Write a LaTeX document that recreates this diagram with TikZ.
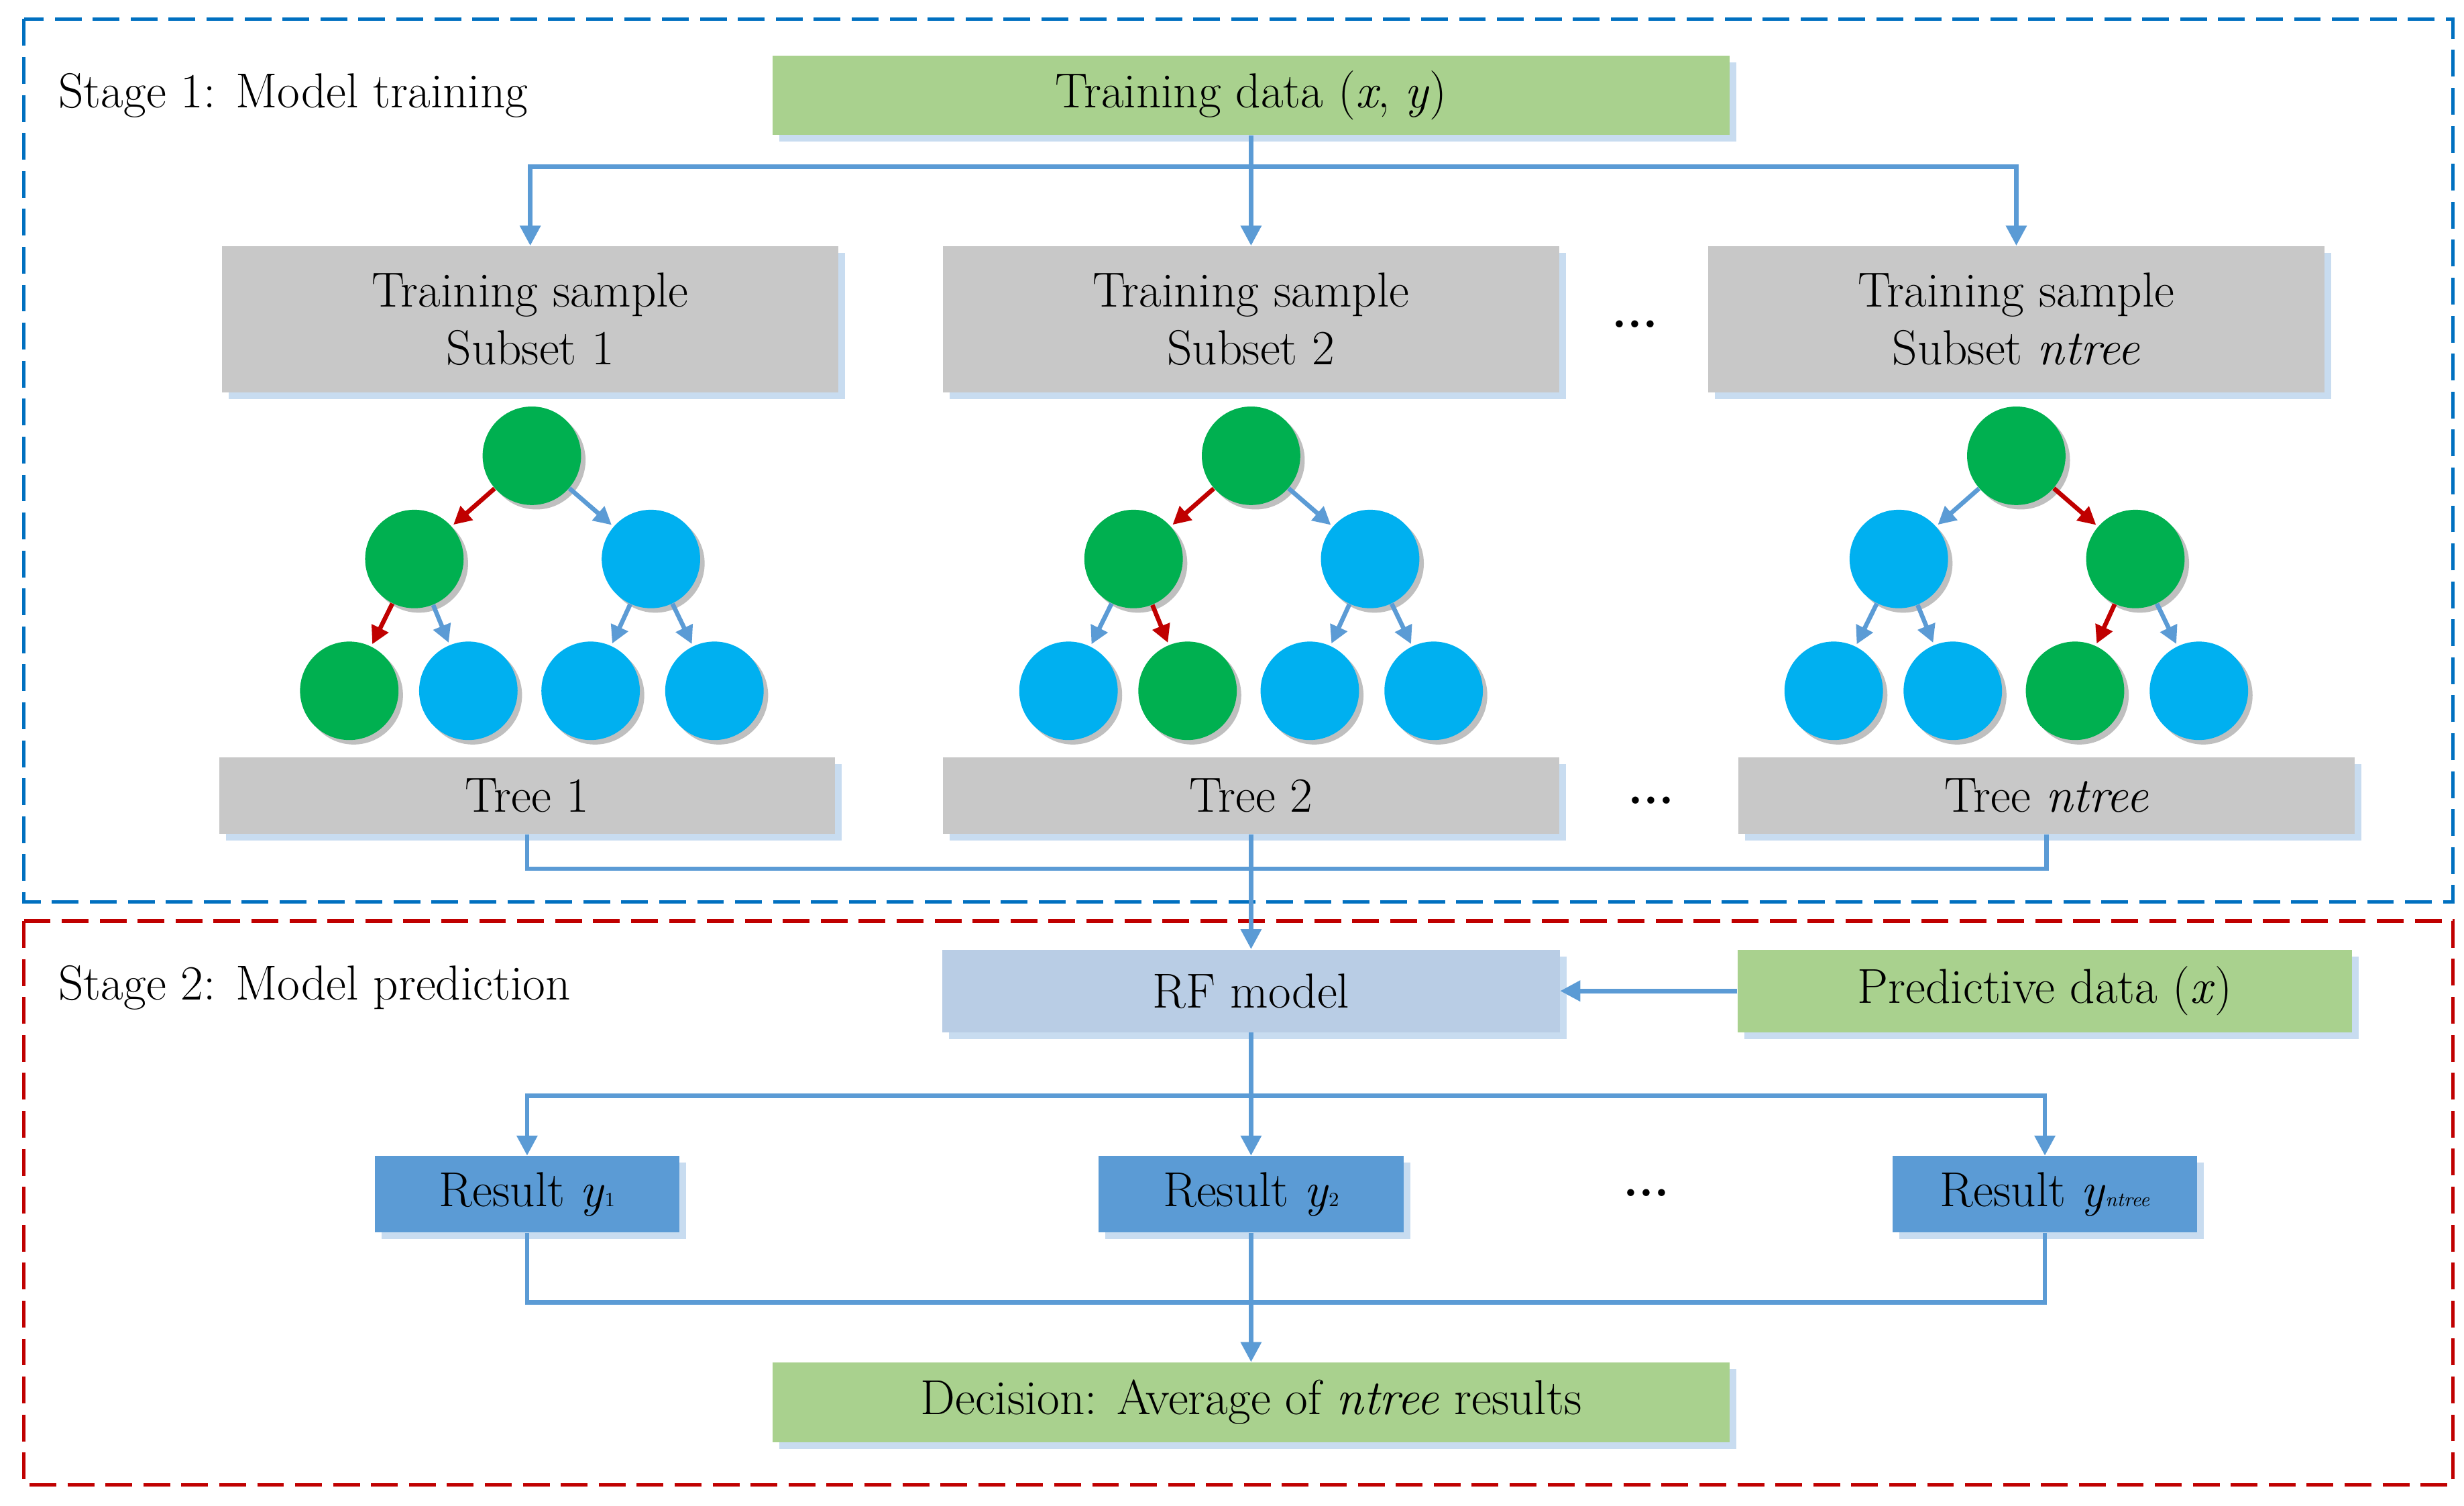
\documentclass[tikz,border=0pt]{standalone}
\usepackage{tikz}
\usetikzlibrary{positioning, arrows.meta, shadows}
\definecolor{boxgreen}{RGB}{169,209,142}
\definecolor{boxgray}{RGB}{200,200,200}
\definecolor{boxlight}{RGB}{185,205,229}
\definecolor{boxblue}{RGB}{91,155,213}
\definecolor{shade}{RGB}{200,220,240}
\definecolor{nodegreen}{RGB}{0,176,80}
\definecolor{nodeblue}{RGB}{0,176,240}
\definecolor{linkblue}{RGB}{91,155,213}
\definecolor{linkred}{RGB}{192,0,0}
\definecolor{frameblue}{RGB}{0,112,192}
\definecolor{framered}{RGB}{192,0,0}
\tikzstyle{box} = [rectangle, inner sep=0pt, text centered, font=\fontsize{22}{26}\selectfont, drop shadow={shadow xshift=3pt, shadow yshift=-3pt, fill=shade, opacity=1}]
\tikzstyle{leaf} = [circle, minimum size=1.55cm, inner sep=0pt, drop shadow={shadow xshift=2pt, shadow yshift=-2pt, fill=black!25, opacity=1}]
\tikzstyle{arrow} = [line width=2pt, draw=linkblue, -{Triangle[length=9pt, width=9pt]}]
\tikzstyle{link} = [line width=2pt, draw=linkblue]
\tikzstyle{split} = [line width=2pt, -{Triangle[length=8pt, width=8pt]}, shorten >=1pt]
\tikzstyle{frame} = [line width=1.6pt, dash pattern=on 12pt off 5pt]
\tikzstyle{label} = [anchor=west, font=\fontsize{22}{26}\selectfont]
\tikzstyle{dots} = [font=\fontsize{22}{26}\selectfont\bfseries]

\begin{document}
\begin{tikzpicture}[x=0.025cm, y=-0.025cm]
    \useasboundingbox (0,0) rectangle (1552,948);

        % Frames
        \draw [frame, frameblue] (15,12) rectangle (1545,568);
        \draw [frame, framered] (15,580) rectangle (1545,935);
        \node [label] at (32,60) {Stage 1: Model training};
        \node [label] at (32,622) {Stage 2: Model prediction};

        % Nodes
        \node (data) [box, fill=boxgreen, minimum width=15.07cm, minimum height=1.25cm] at (788,60) {Training data (\textit{x}, \textit{y})};
        \node (sub1) [box, fill=boxgray, minimum width=9.7cm, minimum height=2.3cm, align=center] at (334,201) {Training sample\\Subset 1};
        \node (sub2) [box, fill=boxgray, minimum width=9.7cm, minimum height=2.3cm, align=center] at (788,201) {Training sample\\Subset 2};
        \node (sub3) [box, fill=boxgray, minimum width=9.7cm, minimum height=2.3cm, align=center] at (1270,201) {Training sample\\Subset \textit{ntree}};
        \node [dots] at (1030,204) {...};

        \node (tree1) [box, fill=boxgray, minimum width=9.7cm, minimum height=1.2cm] at (332,501) {Tree 1};
        \node (tree2) [box, fill=boxgray, minimum width=9.7cm, minimum height=1.2cm] at (788,501) {Tree 2};
        \node (tree3) [box, fill=boxgray, minimum width=9.7cm, minimum height=1.2cm] at (1289,501) {Tree \textit{ntree}};
        \node [dots] at (1040,504) {...};

        \node (rf) [box, fill=boxlight, minimum width=9.72cm, minimum height=1.3cm] at (788,624) {RF model};
        \node (pred) [box, fill=boxgreen, minimum width=9.67cm, minimum height=1.3cm] at (1288,624) {Predictive data (\textit{x})};

        \node (res1) [box, fill=boxblue, minimum width=4.8cm, minimum height=1.2cm] at (332,752) {Result \textit{y}{\small 1}};
        \node (res2) [box, fill=boxblue, minimum width=4.8cm, minimum height=1.2cm] at (788,752) {Result \textit{y}{\small 2}};
        \node (res3) [box, fill=boxblue, minimum width=4.8cm, minimum height=1.2cm] at (1288,752) {Result \textit{y}{\small\textit{ntree}}};
        \node [dots] at (1037,751) {...};

        \node (dec) [box, fill=boxgreen, minimum width=15.07cm, minimum height=1.25cm] at (788,883) {Decision: Average of \textit{ntree} results};

        % Trees
        \foreach \t/\dx/\ca/\cb/\cc/\la/\lb/\lc/\ld/\ea/\eb/\ec/\ed/\ee/\ef in {
            1/0/nodegreen/nodegreen/nodeblue/nodegreen/nodeblue/nodeblue/nodeblue/linkred/linkblue/linkred/linkblue/linkblue/linkblue,
            2/453/nodegreen/nodegreen/nodeblue/nodeblue/nodegreen/nodeblue/nodeblue/linkred/linkblue/linkblue/linkred/linkblue/linkblue,
            3/935/nodegreen/nodeblue/nodegreen/nodeblue/nodeblue/nodegreen/nodeblue/linkblue/linkred/linkblue/linkblue/linkred/linkblue} {
            \node (r\t) [leaf, fill=\ca] at (335+\dx,287) {};
            \node (a\t) [leaf, fill=\cb] at (261+\dx,352) {};
            \node (b\t) [leaf, fill=\cc] at (410+\dx,352) {};
            \node (p\t) [leaf, fill=\la] at (220+\dx,435) {};
            \node (q\t) [leaf, fill=\lb] at (295+\dx,435) {};
            \node (s\t) [leaf, fill=\lc] at (372+\dx,435) {};
            \node (u\t) [leaf, fill=\ld] at (450+\dx,435) {};
            \draw [split, \ea] (r\t) -- (a\t);
            \draw [split, \eb] (r\t) -- (b\t);
            \draw [split, \ec] (a\t) -- (p\t);
            \draw [split, \ed] (a\t) -- (q\t);
            \draw [split, \ee] (b\t) -- (s\t);
            \draw [split, \ef] (b\t) -- (u\t);
        }

        % Arrows
        \coordinate (top) at (788,105);
        \draw [link] (data.south) -- (top);
        \draw [arrow] (top) -| (sub1.north);
        \draw [arrow] (top) -- (sub2.north);
        \draw [arrow] (top) -| (sub3.north);

        \coordinate (join) at (788,547);
        \draw [link] (tree1.south) |- (join) -| (tree3.south);
        \draw [arrow] (tree2.south) -- (rf.north);
        \draw [arrow] (pred.west) -- (rf.east);

        \coordinate (fork) at (788,690);
        \draw [link] (rf.south) -- (fork);
        \draw [arrow] (fork) -| (res1.north);
        \draw [arrow] (fork) -- (res2.north);
        \draw [arrow] (fork) -| (res3.north);

        \coordinate (merge) at (788,820);
        \draw [link] (res1.south) |- (merge) -| (res3.south);
        \draw [link] (res2.south) -- (merge);
        \draw [arrow] (merge) -- (dec.north);

    \end{tikzpicture}
\end{document}
